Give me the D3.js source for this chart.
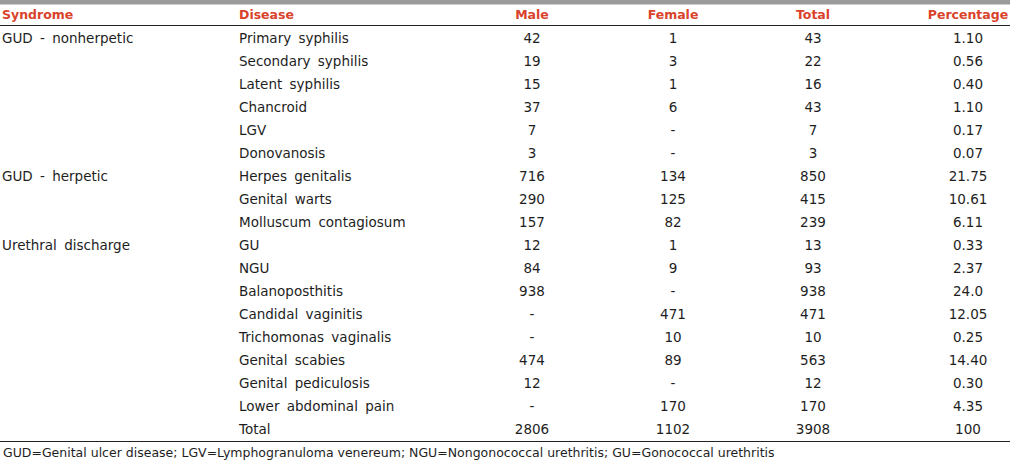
<!DOCTYPE html>
<html>
<head>
<meta charset="utf-8">
<script src="https://cdn.jsdelivr.net/npm/d3@7"></script>
<style>
  html, body { margin: 0; padding: 0; background: #fff; }
  svg { display: block; }
  text { font-family: "DejaVu Sans", Verdana, sans-serif; }
</style>
</head>
<body>
<svg id="chart" width="1010" height="461"></svg>
<script>
const headers = ['Syndrome', 'Disease', 'Male', 'Female', 'Total', 'Percentage'];

const syndromes = [
  'GUD - nonherpetic', '', '', '', '', '',
  'GUD - herpetic', '', '',
  'Urethral discharge', '', '', '', '', '', '', '', ''
];

const diseases = [
  'Primary syphilis', 'Secondary syphilis', 'Latent syphilis', 'Chancroid', 'LGV', 'Donovanosis',
  'Herpes genitalis', 'Genital warts', 'Molluscum contagiosum',
  'GU', 'NGU', 'Balanoposthitis', 'Candidal vaginitis', 'Trichomonas vaginalis',
  'Genital scabies', 'Genital pediculosis', 'Lower abdominal pain', 'Total'
];

const male = ['42', '19', '15', '37', '7', '3', '716', '290', '157', '12', '84', '938', '-', '-', '474', '12', '-', '2806'];
const female = ['1', '3', '1', '6', '-', '-', '134', '125', '82', '1', '9', '-', '471', '10', '89', '-', '170', '1102'];
const total = ['43', '22', '16', '43', '7', '3', '850', '415', '239', '13', '93', '938', '471', '10', '563', '12', '170', '3908'];
const percentage = ['1.10', '0.56', '0.40', '1.10', '0.17', '0.07', '21.75', '10.61', '6.11', '0.33', '2.37', '24.0', '12.05', '0.25', '14.40', '0.30', '4.35', '100'];

const footnote = 'GUD=Genital ulcer disease; LGV=Lymphogranuloma venereum; NGU=Nongonococcal urethritis; GU=Gonococcal urethritis';

const width = 1010;
const red = '#d9432c';
const ink = '#1e1e1e';

const svg = d3.select('#chart');

// rows
const rowIdx = d3.range(diseases.length);
const y = d3.scalePoint()
  .domain(rowIdx)
  .range([38, 429]);

// column anchors
const colX = d3.scaleOrdinal()
  .domain(headers)
  .range([2, 239, 532, 673, 813, 968]);
const anchorOf = h => (h === 'Syndrome' || h === 'Disease' ? 'start' : 'middle');

const columns = {
  Syndrome: syndromes,
  Disease: diseases,
  Male: male,
  Female: female,
  Total: total,
  Percentage: percentage
};

// grey top bar
svg.append('rect')
  .attr('x', 0).attr('y', 0)
  .attr('width', width).attr('height', 4.5)
  .attr('fill', '#9b9b9b');

// header
svg.append('g').selectAll('text')
  .data(headers)
  .join('text')
    .attr('x', h => colX(h))
    .attr('y', 15)
    .attr('dy', '0.35em')
    .attr('text-anchor', anchorOf)
    .attr('fill', red)
    .attr('font-weight', 'bold')
    .attr('font-size', 12.5)
    .text(h => h);

svg.append('line')
  .attr('x1', 0).attr('x2', width)
  .attr('y1', 25.5).attr('y2', 25.5)
  .attr('stroke', '#222').attr('stroke-width', 1);

// body cells
const body = svg.append('g');
headers.forEach((h) => {
  body.append('g').selectAll('text')
    .data(rowIdx.filter(i => columns[h][i] !== ''))
    .join('text')
      .attr('x', colX(h))
      .attr('y', i => y(i))
      .attr('dy', '0.35em')
      .attr('text-anchor', anchorOf(h))
      .attr('fill', ink)
      .attr('font-size', 13.5)
      .attr('word-spacing', 3)
      .text(i => columns[h][i]);
});

svg.append('line')
  .attr('x1', 0).attr('x2', width)
  .attr('y1', 441.5).attr('y2', 441.5)
  .attr('stroke', '#222').attr('stroke-width', 1);

svg.append('text')
  .attr('x', 3)
  .attr('y', 453)
  .attr('dy', '0.35em')
  .attr('fill', ink)
  .attr('font-size', 12.5)
  .text(footnote);
</script>
</body>
</html>
